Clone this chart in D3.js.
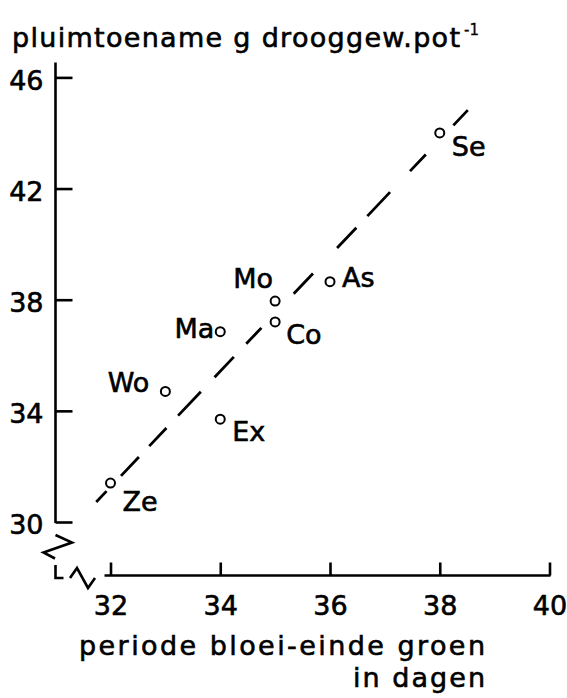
<!DOCTYPE html>
<html>
<head>
<meta charset="utf-8">
<script src="https://cdn.jsdelivr.net/npm/d3@7/dist/d3.min.js"></script>
<style>
  html, body { margin: 0; padding: 0; background: #fff; }
  svg text { font-family: "DejaVu Sans", sans-serif; fill: #000; stroke: #000; stroke-width: 0.6px; }
</style>
</head>
<body>
<svg id="chart" width="567" height="698"></svg>
<script>
// Cultivars with their flowering-to-green period and panicle growth
const cultivars = ["Ze", "Wo", "Ex", "Ma", "Mo", "Co", "As", "Se"];
const periodDays = [32.0, 33.0, 34.0, 34.0, 35.0, 35.0, 36.0, 38.0];
const panicleGain = [31.4, 34.7, 33.7, 36.85, 37.95, 37.2, 38.65, 44.0];

// Regression line end points (x = days, y = gain)
const trendX = [31.74, 38.53];
const trendY = [30.72, 44.86];

const xTicks = [32, 34, 36, 38, 40];
const yTicks = [30, 34, 38, 42, 46];

const titleText = "pluimtoename g drooggew.pot";
const titleSup = "-1";
const xTitle1 = "periode bloei-einde groen";
const xTitle2 = "in dagen";

const svg = d3.select("#chart");
const FS = 27;

const x = d3.scaleLinear().domain([32, 40]).range([110.5, 549.5]);
const y = d3.scaleLinear().domain([30, 46]).range([522, 77.4]);

const axisX0 = 55.5;
const axisY0 = 575.5;

// label placement relative to each point: [dx, dy, anchor]
const labelPos = {
  Ze: [12, 28, "start"],
  Wo: [-16, 1, "end"],
  Ex: [12, 22, "start"],
  Ma: [-6, 6, "end"],
  Mo: [-2, -13, "end"],
  Co: [11, 22, "start"],
  As: [12, 5, "start"],
  Se: [12, 23, "start"]
};

// y axis with inward ticks
const yAxis = svg.append("g")
  .attr("transform", `translate(${axisX0},0)`)
  .call(d3.axisLeft(y).tickValues(yTicks).tickSize(-17).tickSizeOuter(0).tickPadding(12).tickFormat(d3.format("d")));
yAxis.select(".domain").remove();
yAxis.selectAll(".tick line").attr("stroke", "#000").attr("stroke-width", 2.6);
yAxis.selectAll(".tick text")
  .attr("font-size", FS).attr("dy", "0.44em").style("font-family", "DejaVu Sans");
yAxis.append("line")
  .attr("x1", 0).attr("x2", 0)
  .attr("y1", y(46) - 15).attr("y2", y(30) + 1)
  .attr("stroke", "#000").attr("stroke-width", 2.6);

// x axis with inward ticks
const xAxis = svg.append("g")
  .attr("transform", `translate(0,${axisY0})`)
  .call(d3.axisBottom(x).tickValues(xTicks).tickSize(-13).tickSizeOuter(0).tickFormat(d3.format("d")));
xAxis.select(".domain").remove();
xAxis.selectAll(".tick line").attr("stroke", "#000").attr("stroke-width", 2.6);
xAxis.selectAll(".tick text")
  .attr("font-size", FS).attr("y", 39).attr("dy", 0).style("font-family", "DejaVu Sans");
xAxis.append("line")
  .attr("x1", x(32) - 6).attr("x2", x(40) + 1)
  .attr("y1", 0).attr("y2", 0)
  .attr("stroke", "#000").attr("stroke-width", 2.6);

// axis break marks at the origin corner
const brk = svg.append("g")
  .attr("fill", "none").attr("stroke", "#000").attr("stroke-width", 2.6)
  .attr("stroke-linejoin", "miter");
brk.append("path").attr("d", `M${axisX0},535 L72,542.5 L43.5,552.5 L55,558.5`);
brk.append("path").attr("d", `M${axisX0},565 L${axisX0},578 L63.5,578`);
brk.append("path").attr("d", `M70,578 L77,568 L88,588 L95,578`);

// dashed regression line
svg.append("line")
  .attr("x1", x(trendX[0])).attr("y1", y(trendY[0]))
  .attr("x2", x(trendX[1])).attr("y2", y(trendY[1]))
  .attr("stroke", "#000").attr("stroke-width", 2.8)
  .attr("stroke-dasharray", "15 21 26 15 25 17 33 20 28 18 22 47 28 35 28 16 33 29 23 40 21");

// data points
const pts = cultivars.map((c, i) => ({ name: c, x: periodDays[i], y: panicleGain[i] }));

svg.append("g").selectAll("circle")
  .data(pts).join("circle")
  .attr("cx", d => x(d.x)).attr("cy", d => y(d.y))
  .attr("r", 4.5).attr("fill", "#fff")
  .attr("stroke", "#000").attr("stroke-width", 2);

svg.append("g").selectAll("text")
  .data(pts).join("text")
  .attr("x", d => x(d.x) + labelPos[d.name][0])
  .attr("y", d => y(d.y) + labelPos[d.name][1])
  .attr("text-anchor", d => labelPos[d.name][2])
  .attr("font-size", FS)
  .text(d => d.name);

// titles
svg.append("text").attr("x", 12).attr("y", 47).attr("font-size", FS)
  .attr("textLength", 448).attr("lengthAdjust", "spacing").text(titleText);
svg.append("text").attr("x", 464).attr("y", 35).attr("font-size", 15)
  .style("stroke-width", "0.3px").text(titleSup);

svg.append("text").attr("x", 79).attr("y", 655).attr("font-size", FS)
  .attr("textLength", 406).attr("lengthAdjust", "spacing").text(xTitle1);
svg.append("text").attr("x", 353).attr("y", 687).attr("font-size", FS)
  .attr("textLength", 132).attr("lengthAdjust", "spacing").text(xTitle2);
</script>
</body>
</html>
